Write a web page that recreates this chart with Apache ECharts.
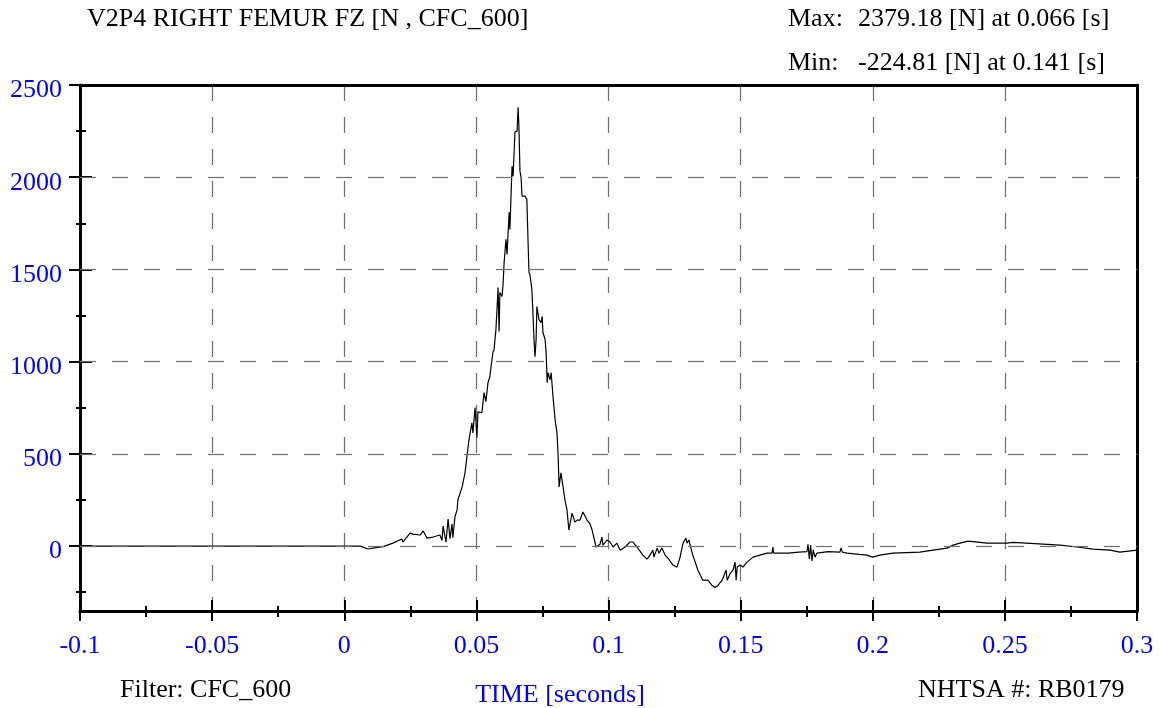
<!DOCTYPE html>
<html>
<head>
<meta charset="utf-8">
<script src="https://cdn.jsdelivr.net/npm/echarts@6/dist/echarts.min.js"></script>
<style>
html,body{margin:0;padding:0;background:#fff;}
#chart{width:1162px;height:708px;}
</style>
</head>
<body>
<div id="chart"></div>
<script>
// ---- data (time in s, force in N) ----
const times = [
-0.1, -0.05, 0, 0.006, 0.0090, 0.0120, 0.0147, 0.0184, 0.0218, 0.0222, 0.0249, 0.0260, 0.0287, 0.0299, 0.0313, 0.0336,
0.0362, 0.0370, 0.0374, 0.0385, 0.0393, 0.0400, 0.0408, 0.0411, 0.0419, 0.0427, 0.0430, 0.0446, 0.0457, 0.0465,
0.0472, 0.0483, 0.0487, 0.0495, 0.0502, 0.0506, 0.0521, 0.0529, 0.0536, 0.0544, 0.0551, 0.0555, 0.0563, 0.0567,
0.0574, 0.0578, 0.0582, 0.0586, 0.0589, 0.0597, 0.0601, 0.0605, 0.0612, 0.0616, 0.0624, 0.0627, 0.0631, 0.0635,
0.0639, 0.0642, 0.0646, 0.0654, 0.0658, 0.0661, 0.0665, 0.0669, 0.0673, 0.0684, 0.0691, 0.0695, 0.0699, 0.0703,
0.0710, 0.0714, 0.0718, 0.0722, 0.0726, 0.0729, 0.0737, 0.0745, 0.0749, 0.0752, 0.0760, 0.0764, 0.0768, 0.0771,
0.0779, 0.0783, 0.0790, 0.0798, 0.0805, 0.0809, 0.0813, 0.0820, 0.0828, 0.0835, 0.0843, 0.0850, 0.0862, 0.0873,
0.0881, 0.0892, 0.0903, 0.0907, 0.0919, 0.0930, 0.0938, 0.0953, 0.0956, 0.0968, 0.0975, 0.0979, 0.0994, 0.1006,
0.1017, 0.1032, 0.1044, 0.1063, 0.1081, 0.1093, 0.1111, 0.1130, 0.1146, 0.1157, 0.1168, 0.1172, 0.1184, 0.1191,
0.1202, 0.1214, 0.1225, 0.1244, 0.1259, 0.1270, 0.1282, 0.1293, 0.1297, 0.1304, 0.1319, 0.1338, 0.1357, 0.1376,
0.1391, 0.1403, 0.1415, 0.1430, 0.1437, 0.1445, 0.1449, 0.1460, 0.1471, 0.1479, 0.1483, 0.1487, 0.1498, 0.1509,
0.1524, 0.1547, 0.1573, 0.1600, 0.1619, 0.1622, 0.1625, 0.1638, 0.1680, 0.1720, 0.1751, 0.1755, 0.1760, 0.1765,
0.1770, 0.1775, 0.1781, 0.1789, 0.1830, 0.1876, 0.1880, 0.1885, 0.1902, 0.1950, 0.1978, 0.2000, 0.2027, 0.2076,
0.2178, 0.2228, 0.2281, 0.2304, 0.2330, 0.2361, 0.2433, 0.2508, 0.2531, 0.2645, 0.2709, 0.2773, 0.2834, 0.2898,
0.2935, 0.3000
];
const forceN = [
0, 0, 0, 0, -16, -8, -3, 16, 38, 22, 70, 65, 60, 82, 43, 49,
60, 30, 109, 22, 147, 40, 120, 45, 158, 196, 250, 321, 397, 495,
576, 668, 614, 750, 587, 728, 723, 832, 783, 886, 918, 967, 1054, 1065,
1174, 1283, 1402, 1163, 1375, 1353, 1420, 1538, 1663, 1581, 1810, 1717, 1897, 2060,
2005, 2108, 2245, 2250, 2379, 2277, 2033, 2000, 1897, 1897, 1880, 1680, 1484, 1470,
1391, 1266, 1120, 1027, 1120, 1299, 1228, 1212, 1245, 1158, 1120, 1049, 886, 940,
902, 940, 810, 685, 614, 505, 321, 397, 321, 250, 196, 87, 179, 130,
141, 141, 185, 179, 141, 120, 87, -5, -11, 10, 49, 5, 33, 22,
-5, 16, -22, -5, 22, 22, -11, -49, -71, -49, -22, -60, -11, -38,
-11, -49, -65, -103, -114, -65, 16, 43, 16, 33, -49, -130, -185, -185,
-212, -225, -212, -185, -175, -130, -185, -150, -130, -87, -185, -114, -103, -114,
-87, -60, -49, -38, -38, -5, -38, -38, -38, -33, -30, 10, -70, 5,
-80, -20, -60, -38, -30, -33, -10, -33, -38, -45, -49, -60, -49, -38,
-33, -22, -11, 5, 16, 27, 16, 16, 20, 11, 5, -5, -16, -22,
-33, -22
];
const yMajorTicks = [0, 500, 1000, 1500, 2000, 2500];
const yMinorTicks = [-250, 250, 750, 1250, 1750, 2250];
const yGridValues = [0, 500, 1000, 1500, 2000];

const FONT = 'Liberation Serif';
const BLUE = '#0000ff';
const GRID_COLOR = '#6e6e6e';
const DASH = [16, 16];
const Y_MIN = -352, Y_MAX = 2500;
const LABEL_SHIFT = 30; // y labels sit slightly below their ticks, as in the reference

const chart = echarts.init(document.getElementById('chart'), null, {renderer: 'canvas'});

function yAx(opts) {
  return Object.assign({
    type: 'value', min: Y_MIN, max: Y_MAX, position: 'left',
    axisLine: {show: false, onZero: false}, splitLine: {show: false},
    axisLabel: {show: false}, axisTick: {show: false}
  }, opts);
}
function xAx(opts) {
  return Object.assign({
    type: 'value', min: -0.1, max: 0.3, interval: 0.05, position: 'bottom',
    axisLine: {show: false, onZero: false}, splitLine: {show: false},
    axisLabel: {show: false}, axisTick: {show: false}
  }, opts);
}

const option = {
  animation: false,
  backgroundColor: '#fff',
  grid: {left: 80, right: 25, top: 85, bottom: 97, containLabel: false},
  xAxis: [
    xAx({
      axisLine: {show: true, onZero: false, lineStyle: {color: '#000', width: 3}},
      axisTick: {show: true, inside: false, length: 10, lineStyle: {color: '#000', width: 2}},
      minorTick: {show: true, splitNumber: 2, length: 6, lineStyle: {color: '#000', width: 2}},
      axisLabel: {show: true, color: BLUE, fontFamily: FONT, fontSize: 26, margin: 22,
        showMinLabel: true, showMaxLabel: true},
      splitLine: {show: true, lineStyle: {color: GRID_COLOR, width: 1.2, type: DASH}}
    }),
    xAx({
      axisTick: {show: true, inside: true, length: 11, lineStyle: {color: '#000', width: 2}},
      minorTick: {show: true, splitNumber: 2, length: 5, lineStyle: {color: '#000', width: 2}}
    }),
    xAx({position: 'top', axisLine: {show: true, onZero: false, lineStyle: {color: '#000', width: 3}}})
  ],
  yAxis: [
    yAx({
      axisLine: {show: true, onZero: false, lineStyle: {color: '#000', width: 3}},
      axisTick: {show: true, inside: false, length: 11, customValues: yMajorTicks, lineStyle: {color: '#000', width: 2}}
    }),
    yAx({axisTick: {show: true, inside: true, length: 12, customValues: yMajorTicks, lineStyle: {color: '#000', width: 2}}}),
    yAx({axisTick: {show: true, inside: false, length: 4, customValues: yMinorTicks, lineStyle: {color: '#000', width: 2}}}),
    yAx({axisTick: {show: true, inside: true, length: 6, customValues: yMinorTicks, lineStyle: {color: '#000', width: 2}}}),
    yAx({position: 'right', axisLine: {show: true, onZero: false, lineStyle: {color: '#000', width: 3}}}),
    // label-only axis, range shifted so each label sits a few px below its tick
    yAx({
      min: Y_MIN + LABEL_SHIFT, max: Y_MAX + LABEL_SHIFT,
      axisLabel: {show: true, customValues: yMajorTicks, color: BLUE, fontFamily: FONT, fontSize: 26, margin: 18,
        formatter: v => String(v)}
    })
  ],
  series: [{
    type: 'line',
    xAxisIndex: 0, yAxisIndex: 0,
    data: times.map((t, i) => [t, forceN[i]]),
    showSymbol: false, symbol: 'none',
    lineStyle: {color: '#000', width: 1.2},
    silent: true,
    markLine: {
      silent: true, symbol: 'none', animation: false,
      label: {show: false},
      lineStyle: {color: GRID_COLOR, width: 1.2, type: DASH},
      data: yGridValues.map(v => ({yAxis: v}))
    }
  }],
  graphic: [
    {type: 'text', left: 87, top: 6, style: {text: 'V2P4 RIGHT FEMUR FZ [N , CFC_600]', fill: '#000', font: '26px "Liberation Serif"'}},
    {type: 'text', left: 788, top: 6, style: {text: 'Max:', fill: '#000', font: '26px "Liberation Serif"'}},
    {type: 'text', left: 858, top: 6, style: {text: '2379.18 [N] at 0.066 [s]', fill: '#000', font: '26px "Liberation Serif"'}},
    {type: 'text', left: 788, top: 50, style: {text: 'Min:', fill: '#000', font: '26px "Liberation Serif"'}},
    {type: 'text', left: 858, top: 50, style: {text: '-224.81 [N] at 0.141 [s]', fill: '#000', font: '26px "Liberation Serif"'}},
    {type: 'text', left: 120, top: 677, style: {text: 'Filter: CFC_600', fill: '#000', font: '26px "Liberation Serif"'}},
    {type: 'text', x: 560, y: 682, style: {text: 'TIME [seconds]', fill: BLUE, font: '26px "Liberation Serif"', align: 'center'}},
    {type: 'text', left: 918, top: 677, style: {text: 'NHTSA #: RB0179', fill: '#000', font: '26px "Liberation Serif"'}}
  ]
};
chart.setOption(option);
</script>
</body>
</html>
